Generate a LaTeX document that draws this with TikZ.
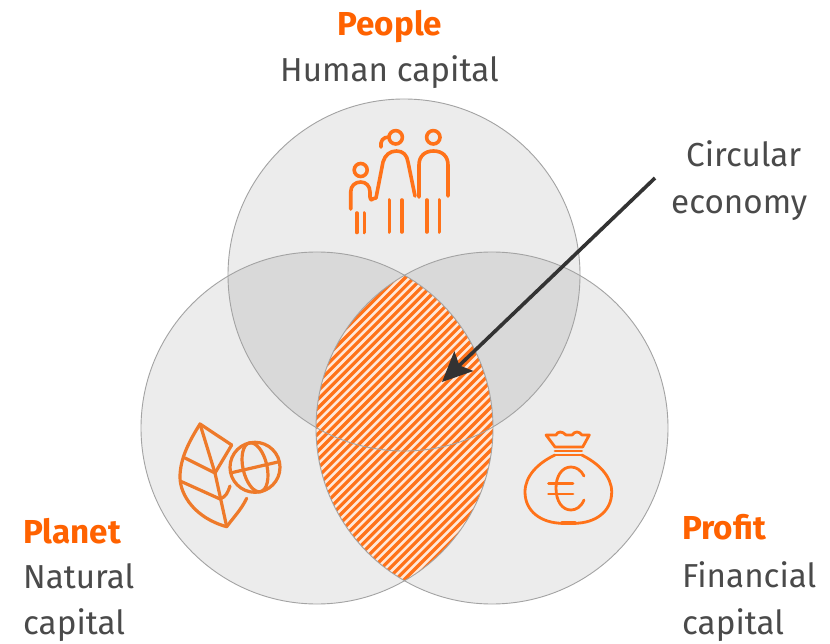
\documentclass[tikz,border=0pt]{standalone}
\usepackage{fontspec}
\setmainfont{Fira Sans}
\usetikzlibrary{arrows.meta}
\definecolor{ingorange}{HTML}{FF6200}
\definecolor{iconorange}{HTML}{EE7A2A}
\definecolor{txtgrey}{HTML}{4A4A4A}
\definecolor{fillone}{HTML}{ECECEC}
\definecolor{filltwo}{HTML}{D9D9D9}
\definecolor{edgegrey}{HTML}{A3A3A3}
\tikzset{
  x=1pt,y=-1pt,
  headtxt/.style={font=\fontsize{33.2}{38}\selectfont\bfseries,text=ingorange,inner sep=0pt,anchor=base west},
  subtxt/.style={font=\fontsize{33.2}{38}\selectfont,text=txtgrey,inner sep=0pt,anchor=base west},
  icon/.style={draw=ingorange!90!white,line width=3.6pt,line cap=round,line join=round},
  iconb/.style={draw=iconorange,line width=3.2pt,line cap=round,line join=round},
  bagline/.style={draw=ingorange!90!white,line width=2.8pt,line cap=round,line join=round},
  ring/.style={draw=edgegrey,line width=0.9pt},
  stripe/.style={draw=ingorange!90!white,line width=3.2pt},
  pointer/.style={draw=black!80,line width=3.6pt,-{Stealth[length=30pt,width=27pt,inset=6pt]}}
}
\newcommand{\ctop}{(404,275) circle[radius=176]}
\newcommand{\cleft}{(317,428) circle[radius=176]}
\newcommand{\cright}{(492,428) circle[radius=176]}
\begin{document}
\begin{tikzpicture}
\useasboundingbox (0,0) rectangle (830,644);
\fill[white] (0,0) rectangle (830,644);
% base discs
\fill[fillone] \ctop; \fill[fillone] \cleft; \fill[fillone] \cright;
% pairwise overlaps
\begin{scope}\clip \ctop; \fill[filltwo] \cleft; \fill[filltwo] \cright;\end{scope}
% hatched lens
\begin{scope}
  \clip \cleft; \clip \cright;
  \fill[ingorange!15!white] (300,260) rectangle (510,600);
  \foreach \k in {0,...,50}{
    \draw[stripe] (20+\k*8.6,620) -- ++(420,-420);
  }
\end{scope}
\draw[ring] \ctop; \draw[ring] \cleft; \draw[ring] \cright;
% People icon
\draw[icon] (433.3,137.3) circle[radius=6.7];
\draw[icon] (419,197) -- (419,165) .. controls (419,156) and (425,151) .. (433.5,151) .. controls (442,151) and (448,156) .. (448,165) -- (448,196);
\draw[icon] (426.7,200) -- (426.7,232) (439.3,200) -- (439.3,232);
\draw[icon] (395.7,137.3) circle[radius=6.7];
\draw[icon] (381,147) .. controls (380,141) and (383,137) .. (389,137);
\draw[icon] (372,199) -- (376,198) -- (383,162) .. controls (385,155) and (390,151) .. (396.5,151) .. controls (403,151) and (407,155) .. (408,162) -- (415,196);
\draw[icon] (389.3,200) -- (389.3,232) (401.7,200) -- (401.7,232);
\draw[icon] (360.7,170) circle[radius=6.5];
\draw[icon] (350.7,209) -- (350.7,192) .. controls (350.7,186) and (355,182) .. (360.7,182) .. controls (366,182) and (370,186) .. (370,192) -- (370,197) .. controls (370,199) and (371,200) .. (372,200);
\draw[icon] (356.7,213) -- (356.7,232.5) (364.3,213) -- (364.3,232.5);
% Planet icon
\draw[iconb] (231.7,445) -- (200,424) .. controls (190,440) and (180,458) .. (180,477) .. controls (180,495) and (195,518) .. (226.7,526.7) .. controls (233,518) and (241,510) .. (246.7,498.3);
\draw[iconb] (200,424) -- (215,473) -- (226.7,526.7);
\draw[iconb] (231.7,445) -- (215,473);
\draw[iconb] (185,458) -- (215,473);
\draw[iconb] (181.7,481.7) -- (220,499);
\draw[iconb] (220,499) .. controls (226,497) and (228,492) .. (230,486);
\draw[iconb] (255,467.3) circle[radius=25];
\begin{scope}[shift={(255,467.3)},rotate=13]
  \draw[iconb] (0,0) ellipse[x radius=12,y radius=25];
  \draw[iconb] (-24,0) -- (24,0);
\end{scope}
% Profit icon
\draw[bagline] (555,455) .. controls (538,463) and (525,476) .. (525,492) .. controls (525,512) and (542,523) .. (562,523.3);
\draw[bagline] (581.7,455) .. controls (598,463) and (611.7,476) .. (611.7,492) .. controls (611.7,512) and (595,523) .. (575,523.3);
\draw[bagline,line width=3.8pt] (562,523.3) -- (575,523.3);
\draw[bagline] (555,455) -- (581.7,455) (555,451) -- (581.7,451);
\draw[bagline] (555,447) -- (546,435) -- (556,435) .. controls (558,431) and (562,431) .. (566,435) -- (572,435) .. controls (575,431) and (579,431) .. (582,435) -- (589.3,435) -- (582.7,447) -- cycle;
\draw[bagline] (584,476) .. controls (581,470) and (576,467) .. (571,467) .. controls (562,467) and (556,476) .. (556,488) .. controls (556,501) and (562,510) .. (571,510) .. controls (576,510) and (581,507) .. (584,500);
\draw[bagline] (548.5,483.3) -- (573,483.3) (548.5,494) -- (573,494);
% Labels
\node[headtxt] (people) at (337.5,36) {People};
\node[subtxt] (human) at (280,82) {Human capital};
\node[subtxt] (circ1) at (686,167) {Circular};
\node[subtxt] (circ2) at (671,214) {economy};
\node[headtxt] (planet) at (23,543) {Planet};
\node[subtxt] (nat1) at (23,588) {Natural};
\node[subtxt] (nat2) at (23,634) {capital};
\node[headtxt] (profit) at (682,539) {Profit};
\node[subtxt] (fin1) at (682,587) {Financial};
\node[subtxt] (fin2) at (682,634) {capital};
% Pointer
\coordinate (ptrstart) at (655,178);
\coordinate (ptrend) at (442,382);
\draw[pointer] (ptrstart) -- (ptrend);
\end{tikzpicture}
\end{document}
